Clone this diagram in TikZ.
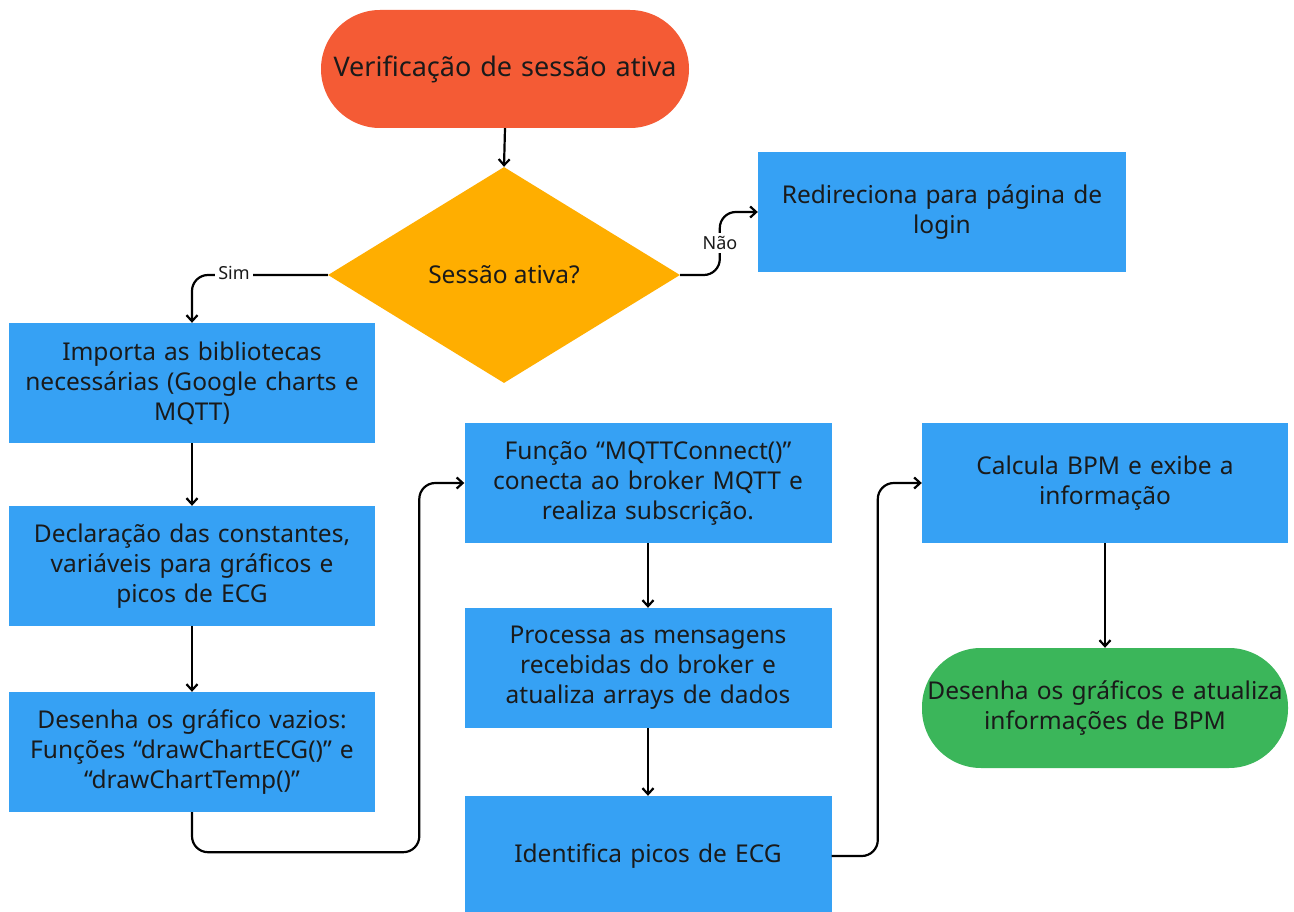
\documentclass[tikz,border=0pt]{standalone}
\usepackage{fontspec}
\setmainfont{Noto Sans}
\usetikzlibrary{shapes.geometric,arrows.meta}
\definecolor{startc}{HTML}{F45B35}
\definecolor{decc}{HTML}{FFAE00}
\definecolor{procc}{HTML}{36A1F4}
\definecolor{endc}{HTML}{3BB65A}
\definecolor{txt}{HTML}{1A1A1A}
\tikzset{
  base/.style={font=\fontsize{24.5}{30}\selectfont, text=txt, align=center, inner sep=0pt},
  procbox/.style={base, fill=procc, minimum width=366, minimum height=120, text width=366},
  pill/.style={base, rounded corners=59, minimum width=368, minimum height=118, text width=366},
  decision/.style={base, diamond, fill=decc, minimum width=352, minimum height=216},
  link/.style={draw=black, line width=2.2pt, -{Straight Barb[length=6pt,width=11pt]}},
  lbl/.style={font=\fontsize{18}{20}\selectfont, text=txt, fill=white, inner sep=3pt},
}
\begin{document}
\begin{tikzpicture}[x=1pt, y=-1pt]
\useasboundingbox[fill=white] (0,0) rectangle (1294,912);

% nodes
\node[pill, fill=startc, font=\fontsize{27}{30}\selectfont] (start) at (505,69) {Verificação de sessão ativa};
\node[decision] (ses) at (504,275) {Sessão ativa?};
\node[procbox, minimum width=368] (redir) at (942,212) {Redireciona para página de\\login};
\node[procbox] (imp) at (192,383) {Importa as bibliotecas\\necessárias (Google charts e\\MQTT)};
\node[procbox] (decl) at (192,566) {Declaração das constantes,\\variáveis para gráficos e\\picos de ECG};
\node[procbox] (empty) at (192,752) {Desenha os gráfico vazios:\\Funções “drawChartECG()” e\\“drawChartTemp()”};
\node[procbox, minimum width=367] (mqtt) at (648,483) {Função “MQTTConnect()”\\conecta ao broker MQTT e\\realiza subscrição.};
\node[procbox, minimum width=367] (proc) at (648,668) {Processa as mensagens\\recebidas do broker e\\atualiza arrays de dados};
\node[procbox, minimum width=367] (ident) at (648,856) {Identifica picos de ECG};
\node[procbox] (calc) at (1105,483) {Calcula BPM e exibe a\\informação};
\node[pill, fill=endc, minimum width=366, minimum height=120] (draw) at (1105,708) {Desenha os gráficos e atualiza\\informações de BPM};

% connectors
\draw[link] (start.south) -- (ses.north);
\draw[link, rounded corners=16] (ses.west) -| (imp.north);
\node[lbl] (sim) at (234,273) {Sim};
\draw[link, rounded corners=16] (ses.east) -| ([xshift=-38]redir.west) -- (redir.west);
\node[lbl] (nao) at (720,243) {Não};
\draw[link] (imp.south) -- (decl.north);
\draw[link] (decl.south) -- (empty.north);
\draw[link, rounded corners=16] (empty.south) -- ++(0,40) -| ([xshift=-45]mqtt.west) -- (mqtt.west);
\draw[link] (mqtt.south) -- (proc.north);
\draw[link] (proc.south) -- (ident.north);
\draw[link, rounded corners=16] (ident.east) -| ([xshift=-44]calc.west) -- (calc.west);
\draw[link] (calc.south) -- (draw.north);
\end{tikzpicture}
\end{document}
